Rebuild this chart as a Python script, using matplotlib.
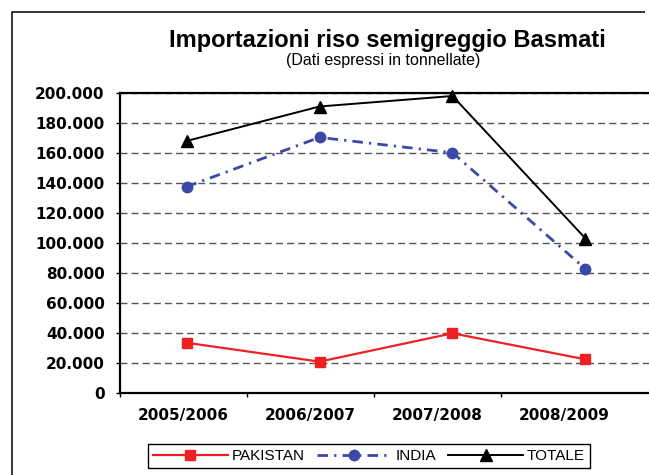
"""
Importazioni riso semigreggio Basmati, 2005/2006 - 2008/2009.
Line chart of tonnes imported from Pakistan, India and the total.
"""
import numpy as np
import matplotlib
matplotlib.use("Agg")
import matplotlib.pyplot as plt
from matplotlib.lines import Line2D
from matplotlib.ticker import FuncFormatter, FixedLocator, NullFormatter


# data (tonnes)
seasons = ["2005/2006", "2006/2007", "2007/2008", "2008/2009"]
pakistan = [33500, 20900, 39800, 22400]
india = [137500, 170400, 160200, 82700]
totale = [168000, 191000, 198000, 103000]

W, H = 649, 475
RED = "#ee2024"
BLUE = "#3a48a6"
GRID = "#555555"
TICK_FONT = "DejaVu Sans"
TEXT_FONT = "Liberation Sans"
INDIA_DASH = (0, (3.8, 2.2, 0.8, 2.2))

fig = plt.figure(figsize=(W / 100, H / 100), dpi=100)
fig.patch.set_linewidth(0)

# chart-area border: only the top and left edges are inside the crop
border_y = 1 - 11.5 / H
fig.add_artist(Line2D([12 / W, 12 / W], [0.0, border_y],
                      transform=fig.transFigure, color="black", linewidth=1.1))
fig.add_artist(Line2D([12 / W, (W - 4) / W], [border_y, border_y],
                      transform=fig.transFigure, color="black", linewidth=1.1,
                      solid_capstyle="butt"))

ax = fig.add_axes([120 / W, 82 / H, 532 / W, 300 / H])
x = np.arange(len(seasons))

ax.plot(x, pakistan, color=RED, linewidth=1.6, marker="s", markersize=7,
        markeredgecolor=RED, markerfacecolor=RED, clip_on=False, zorder=3)
ax.plot(x, india, color=BLUE, linewidth=2.0, linestyle=INDIA_DASH,
        marker="o", markersize=7.5, markeredgecolor=BLUE, markerfacecolor=BLUE,
        clip_on=False, zorder=3)
ax.plot(x, totale, color="black", linewidth=1.4, marker="^", markersize=9,
        clip_on=False, zorder=4)

ax.set_xlim(-0.5, 3.5)
ax.set_ylim(0, 200000)
ax.set_xticks([])
ax.set_yticks(range(0, 200001, 20000))
ax.yaxis.set_major_formatter(FuncFormatter(lambda v, _: f"{v:,.0f}".replace(",", ".")))
ax.tick_params(axis="y", direction="out", length=3, width=1, pad=8,
               labelsize=11, labelcolor="black")
for lab in ax.get_yticklabels():
    lab.set_fontfamily(TICK_FONT)
    lab.set_fontweight("bold")

ax.yaxis.grid(True, linestyle=(0, (5, 3)), color=GRID, linewidth=1.0)
ax.set_axisbelow(True)
for side in ["left", "bottom", "top"]:
    ax.spines[side].set_color("black")
    ax.spines[side].set_linewidth(1.6)
ax.spines["right"].set_visible(False)

# category labels sit on a slightly narrower scale than the points
label_axis = ax.twiny()
label_axis.set_xlim(-0.5, -0.5 + 532 / 127)
label_axis.xaxis.set_ticks_position("bottom")
label_axis.xaxis.set_major_locator(FixedLocator([-0.5, 0.5, 1.5, 2.5]))
label_axis.xaxis.set_major_formatter(NullFormatter())
label_axis.xaxis.set_minor_locator(FixedLocator(list(range(len(seasons)))))
label_axis.set_xticklabels(seasons, minor=True)
label_axis.tick_params(axis="x", which="major", direction="out", length=3, width=1)
label_axis.tick_params(axis="x", which="minor", length=0, pad=11, labelsize=11)
for lab in label_axis.get_xticklabels(minor=True):
    lab.set_fontfamily(TICK_FONT)
    lab.set_fontweight("bold")
for side in label_axis.spines.values():
    side.set_visible(False)

fig.text(387 / W, 1 - 47 / H, "Importazioni riso semigreggio Basmati",
         ha="center", va="baseline", fontsize=17, fontweight="bold",
         family=TEXT_FONT)
fig.text(383 / W, 1 - 65.5 / H, "(Dati espressi in tonnellate)",
         ha="center", va="baseline", fontsize=11.5, family=TEXT_FONT)

handles = [
    Line2D([], [], color=RED, linewidth=1.6, marker="s", markersize=7),
    Line2D([], [], color=BLUE, linewidth=2.0, linestyle=INDIA_DASH,
           marker="o", markersize=7.5),
    Line2D([], [], color="black", linewidth=1.4, marker="^", markersize=9),
]
leg = fig.legend(handles, ["PAKISTAN", "INDIA", "TOTALE"], loc="center",
                 bbox_to_anchor=(369 / W, 19 / H), ncol=3, frameon=True,
                 fancybox=False, edgecolor="black", framealpha=1,
                 handlelength=4.9, handletextpad=0.25, columnspacing=0.8,
                 borderpad=0.35, borderaxespad=0,
                 prop={"family": TEXT_FONT, "size": 11})
leg.get_frame().set_linewidth(1.0)

fig.savefig("out.png", dpi=100)
